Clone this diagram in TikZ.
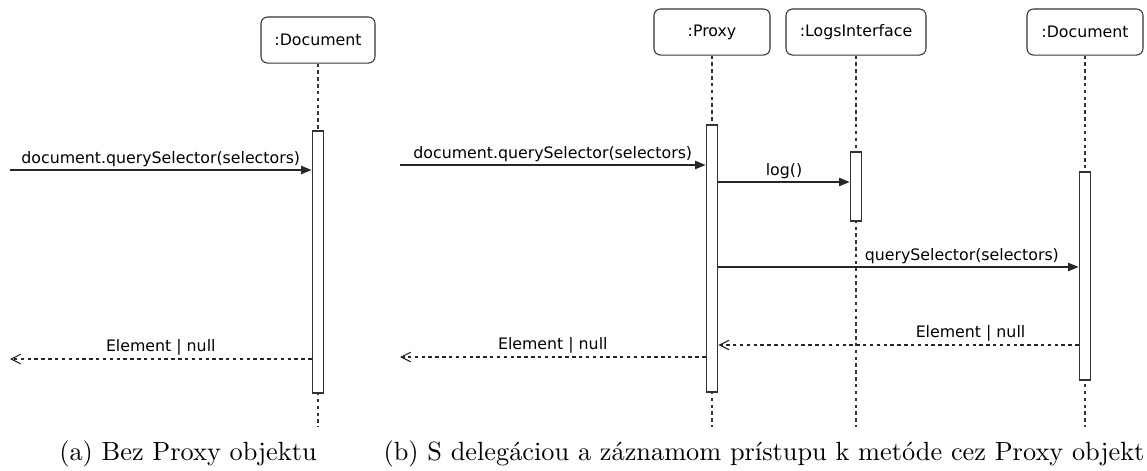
\documentclass[tikz,border=0pt]{standalone}
\usepackage{fontspec}
\usetikzlibrary{arrows.meta,positioning}
\newfontfamily\diafont{DejaVu Sans}

\begin{document}
\begin{tikzpicture}[x=0.38pt,y=-0.38pt,
    line width=0.4pt,
    head/.style={draw=black!80,rounded corners=2.5pt,minimum width=#1*0.38pt,
        minimum height=17.5pt,inner sep=0pt,font=\diafont\fontsize{6}{7}\selectfont},
    head/.default=116,
    life/.style={draw=black!80,dash pattern=on 1.3pt off 1.3pt},
    actbar/.style={draw=black!80,fill=white,minimum width=4.5pt,
        minimum height=#1*0.38pt,inner sep=0pt},
    call/.style={draw=black!85,-{Triangle[length=4pt,width=3.2pt]}},
    ret/.style={draw=black!85,dash pattern=on 1.3pt off 1.3pt,
        -{Straight Barb[length=3.6pt,width=3.6pt]}},
    lbl/.style={font=\diafont\fontsize{6}{7}\selectfont,inner sep=1.2pt,above}]
    \useasboundingbox (0,0) rectangle (1147,470);

    % (a) without proxy
    \node[head=114] (docA) at (318,40) {:Document};
    \coordinate (endA) at (318,427);
    \draw[life] (docA.south) -- (endA);
    \node[actbar=262] (actA) at (318,262) {};
    \coordinate (inA) at (10,170);
    \coordinate (outA) at (10,359);
    \draw[call] (inA) -- (actA.west |- inA)
        node[lbl,midway] {document.querySelector(selectors)};
    \draw[ret] (actA.west |- outA) -- (outA)
        node[lbl,midway] {Element | null};

    % (b) with proxy
    \node[head] (proxy) at (712,32) {:Proxy};
    \node[head=140] (logs) at (856,32) {:LogsInterface};
    \node[head] (docB) at (1085,32) {:Document};
    \foreach \obj/\x in {proxy/712,logs/856,docB/1085}
        \draw[life] (\obj.south) -- (\x,427);
    \node[actbar=267] (actP) at (712,258.5) {};
    \node[actbar=69] (actL) at (856,186.5) {};
    \node[actbar=208] (actD) at (1085,276) {};
    \coordinate (inB) at (400,165);
    \coordinate (outB) at (400,357);
    \draw[call] (inB) -- (actP.west |- inB)
        node[lbl,midway] {document.querySelector(selectors)};
    \draw[call] (actP.east |- 0,182) -- (actL.west |- 0,182)
        node[lbl,midway] {log()};
    \draw[call] (actP.east |- 0,267) -- (actD.west |- 0,267)
        node[lbl,pos=0.676] {querySelector(selectors)};
    \draw[ret] (actD.west |- 0,345) -- (actP.east |- 0,345)
        node[lbl,pos=0.3] {Element | null};
    \draw[ret] (actP.west |- outB) -- (outB)
        node[lbl,midway] {Element | null};

    % captions
    \node (capA) at (188,454) {(a) Bez Proxy objektu};
    \node (capB) at (764,454) {(b) S delegáciou a záznamom prístupu k metóde cez Proxy objekt};
\end{tikzpicture}
\end{document}
